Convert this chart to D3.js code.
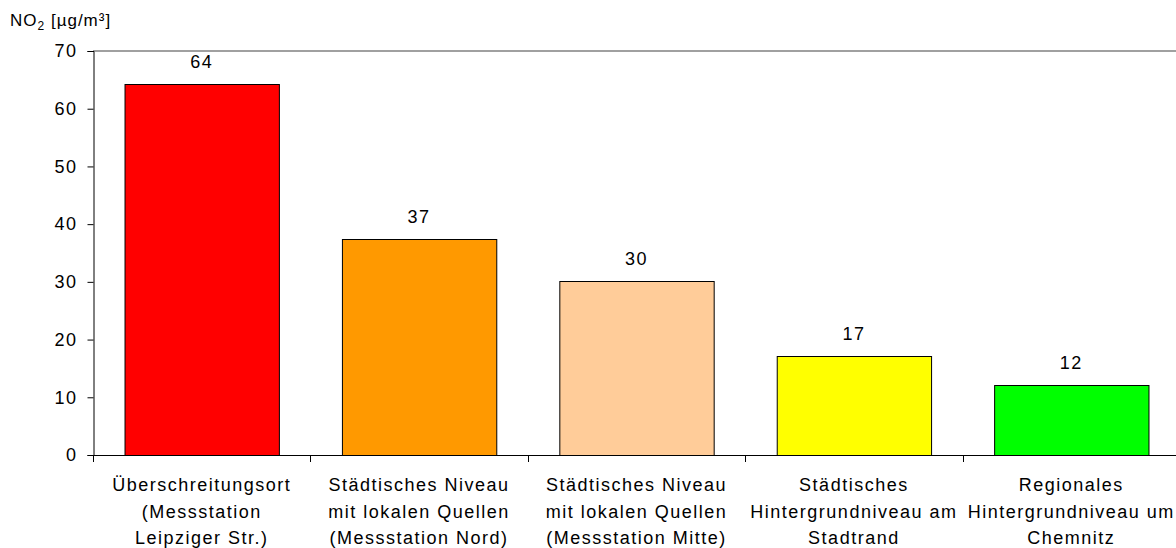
<!DOCTYPE html>
<html>
<head>
<meta charset="utf-8">
<script src="https://cdn.jsdelivr.net/npm/d3@7"></script>
<style>
html,body{margin:0;padding:0;background:#fff;}
svg{display:block;}
text{font-family:"Liberation Sans",Arial,sans-serif;fill:#000;}
</style>
</head>
<body>
<svg id="chart" width="1176" height="548"></svg>
<script>
const categories = [
  ["Überschreitungsort", "(Messstation", "Leipziger Str.)"],
  ["Städtisches Niveau", "mit lokalen Quellen", "(Messstation Nord)"],
  ["Städtisches Niveau", "mit lokalen Quellen", "(Messstation Mitte)"],
  ["Städtisches", "Hintergrundniveau am", "Stadtrand"],
  ["Regionales", "Hintergrundniveau um", "Chemnitz"]
];
const values = [64.2, 37.4, 30.2, 17.1, 12.2];
const barColors = ["#FF0000", "#FF9900", "#FFCC99", "#FFFF00", "#00FF00"];
const yTicks = [0, 10, 20, 30, 40, 50, 60, 70];

const svg = d3.select("#chart");
const m = {left: 93, top: 51, right: 1180, bottom: 455};
const keys = categories.map((c, i) => i);

const x = d3.scaleBand().domain(keys).range([m.left, m.right])
  .paddingInner(0.29).paddingOuter(0.145);
const y = d3.scaleLinear().domain([0, 70]).range([m.bottom, m.top]);

// top border line
svg.append("line")
  .attr("x1", m.left).attr("x2", 1176)
  .attr("y1", y(70)).attr("y2", y(70))
  .attr("stroke", "#a0a0a0").attr("stroke-width", 2);

// bars
svg.append("g").selectAll("rect").data(values).join("rect")
  .attr("x", (d, i) => x(i) + 0.5)
  .attr("y", d => Math.round(y(d)) + 0.5)
  .attr("width", x.bandwidth())
  .attr("height", d => m.bottom - Math.round(y(d)))
  .attr("fill", (d, i) => barColors[i])
  .attr("stroke", "#000").attr("stroke-width", 1);

// data labels
svg.append("g").selectAll("text").data(values).join("text")
  .attr("x", (d, i) => x(i) + x.bandwidth() / 2)
  .attr("y", d => y(d) - 16)
  .attr("text-anchor", "middle")
  .attr("font-size", 18)
  .attr("letter-spacing", 1.5)
  .text(d => d3.format(".0f")(d));

// y axis
const yAxis = d3.axisLeft(y).tickValues(yTicks).tickSize(6).tickPadding(10);
const gy = svg.append("g").attr("transform", `translate(${m.left + 0.5},0)`).call(yAxis);
gy.select(".domain").attr("stroke", "#000");
gy.selectAll(".tick line").attr("stroke", "#000");
gy.selectAll(".tick text")
  .attr("font-size", 18).attr("letter-spacing", 1.5)
  .attr("font-family", "Liberation Sans, Arial, sans-serif").attr("fill", "#000");

// x axis baseline and boundary ticks
const boundaries = keys.map(i => x(i) - x.step() * x.paddingInner() / 2);
svg.append("line")
  .attr("x1", m.left).attr("x2", 1176)
  .attr("y1", m.bottom + 0.5).attr("y2", m.bottom + 0.5)
  .attr("stroke", "#000");
svg.append("g").selectAll("line").data(boundaries).join("line")
  .attr("x1", d => Math.round(d) + 0.5).attr("x2", d => Math.round(d) + 0.5)
  .attr("y1", m.bottom).attr("y2", m.bottom + 7)
  .attr("stroke", "#000");

// category labels
const lab = svg.append("g").selectAll("text").data(categories).join("text")
  .attr("text-anchor", "middle")
  .attr("font-size", 18)
  .attr("letter-spacing", 1.5);
lab.each(function(lines, i) {
  const t = d3.select(this);
  lines.forEach((l, j) => {
    t.append("tspan")
      .attr("x", x(i) + x.bandwidth() / 2)
      .attr("y", 491 + j * 26.5)
      .text(l);
  });
});

// y title
const tt = svg.append("text").attr("x", 10).attr("y", 26).attr("font-size", 17).attr("letter-spacing", 1);
tt.append("tspan").text("NO");
tt.append("tspan").attr("font-size", 12).attr("dy", 4).text("2");
tt.append("tspan").attr("dy", -4).text(" [µg/m³]");
</script>
</body>
</html>
